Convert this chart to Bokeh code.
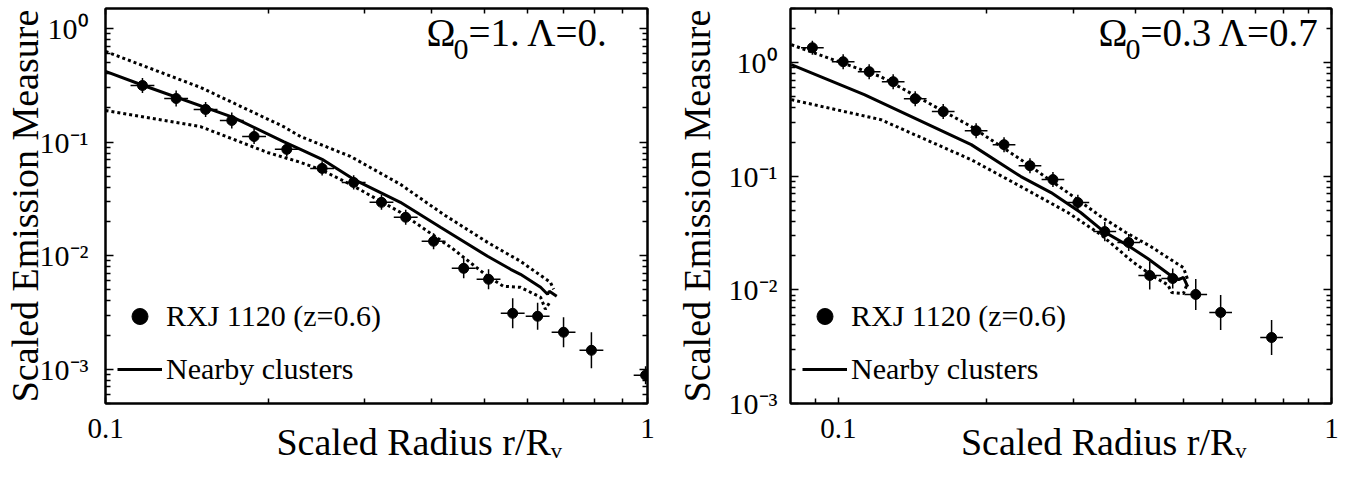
import numpy as np
from bokeh.plotting import figure
from bokeh.models import Range1d, FixedTicker, LogAxis, Label, Legend, LegendItem
from bokeh.layouts import row
from bokeh.embed import file_html
from bokeh.resources import INLINE

FONT = "Liberation Serif"

# ---------------- data: left panel (Omega0=1, Lambda=0) ----------------
L_pts_x = [0.117, 0.135, 0.153, 0.171, 0.188, 0.216, 0.251, 0.287, 0.323, 0.358,
           0.403, 0.458, 0.509, 0.564, 0.627, 0.700, 0.788, 0.992]
L_pts_y = [0.315, 0.242, 0.194, 0.155, 0.112, 0.0863, 0.0587, 0.0442, 0.0295, 0.0218,
           0.0134, 0.00774, 0.00620, 0.00311, 0.00293, 0.00212, 0.00147, 0.000887]
L_yerr_dex = [0.066, 0.07, 0.066, 0.07, 0.066, 0.066, 0.062, 0.062, 0.066, 0.066,
              0.07, 0.088, 0.088, 0.132, 0.119, 0.132, 0.158, 0.08]
L_xerr_dex = [0.022] * 18

L_solid_x = [0.1, 0.1175, 0.172, 0.213, 0.229, 0.251, 0.287, 0.350, 0.415, 0.507,
             0.559, 0.583, 0.635, 0.654, 0.659, 0.680]
L_solid_y = [0.419, 0.315, 0.165, 0.101, 0.0863, 0.0705, 0.047, 0.0295, 0.0178, 0.00988,
             0.00759, 0.00686, 0.00527, 0.00458, 0.00486, 0.00440]
L_up_x = [0.1, 0.1497, 0.213, 0.229, 0.283, 0.350, 0.4204, 0.507, 0.583, 0.662, 0.671]
L_up_y = [0.628, 0.303, 0.137, 0.112, 0.0749, 0.0425, 0.0231, 0.0131, 0.00893, 0.00583, 0.00506]
L_lo_x = [0.1, 0.1497, 0.199, 0.229, 0.249, 0.283, 0.350, 0.4385, 0.507, 0.542,
          0.583, 0.635, 0.648, 0.662]
L_lo_y = [0.190, 0.137, 0.0811, 0.0663, 0.0575, 0.0425, 0.0241, 0.0114, 0.00659, 0.00538,
          0.00527, 0.00431, 0.00338, 0.00397]

# ---------------- data: right panel (Omega0=0.3, Lambda=0.7) ----------------
R_pts_x = [0.0886, 0.1023, 0.1155, 0.1292, 0.1432, 0.1632, 0.1903, 0.2168, 0.2447, 0.2724,
           0.306, 0.347, 0.388, 0.428, 0.4765, 0.5306, 0.596, 0.756]
R_pts_y = [1.355, 1.02, 0.834, 0.681, 0.482, 0.371, 0.252, 0.190, 0.124, 0.0935,
           0.0587, 0.0326, 0.0261, 0.0134, 0.0126, 0.00912, 0.00633, 0.00381]
R_yerr_dex = [0.062, 0.066, 0.066, 0.066, 0.066, 0.066, 0.066, 0.066, 0.066, 0.066,
              0.07, 0.084, 0.075, 0.123, 0.088, 0.136, 0.154, 0.154]
R_xerr_dex = [0.023] * 18

R_solid_x = [0.0803, 0.1129, 0.186, 0.2346, 0.27, 0.310, 0.3456, 0.3865, 0.424, 0.472,
             0.490, 0.501, 0.511]
R_solid_y = [0.96, 0.523, 0.190, 0.0994, 0.0719, 0.048, 0.0326, 0.0246, 0.0189, 0.0134,
             0.0123, 0.0129, 0.0107]
R_up_x = [0.0803, 0.122, 0.186, 0.2346, 0.292, 0.3406, 0.383, 0.430, 0.472, 0.501, 0.511]
R_up_y = [1.44, 0.753, 0.274, 0.140, 0.0719, 0.0442, 0.032, 0.0241, 0.0185, 0.0157, 0.0123]
R_lo_x = [0.0803, 0.122, 0.186, 0.2346, 0.292, 0.3406, 0.397, 0.436, 0.4656, 0.4745,
          0.501, 0.509]
R_lo_y = [0.473, 0.315, 0.140, 0.0811, 0.048, 0.0307, 0.0174, 0.0131, 0.0111, 0.00948,
          0.00929, 0.0111]

# ---------------- ticks / texts ----------------
X_TICKS = [0.1, 1.0]
X_TICK_LABELS = ["0.1", "1"]
X_MINOR = [0.09, 0.2, 0.3, 0.4, 0.5, 0.6, 0.7, 0.8, 0.9]
Y_TICKS = [0.001, 0.01, 0.1, 1.0]
Y_TICK_LABELS = ["10\u207b\u00b3", "10\u207b\u00b2", "10\u207b\u00b9", "10\u2070"]
Y_MINOR = [m * 10.0 ** e for e in range(-4, 1) for m in range(2, 10)]

Y_LABEL = "Scaled Emission Measure"
X_LABEL = "Scaled Radius r/R\u1d65"
LEGEND_PTS = "RXJ 1120 (z=0.6)"
LEGEND_LINE = "Nearby clusters"
L_TITLE = ("\u03a9", "0", "=1. \u039b=0.")
R_TITLE = ("\u03a9", "0", "=0.3 \u039b=0.7")

NBSP = "\u00a0"


def style_axis(ax, minor_in=5, major_in=8):
    ax.axis_line_color = "black"
    ax.axis_line_width = 2
    ax.major_tick_line_color = "black"
    ax.minor_tick_line_color = "black"
    ax.major_tick_line_width = 1.5
    ax.minor_tick_line_width = 1.5
    ax.major_tick_in = major_in
    ax.major_tick_out = 0
    ax.minor_tick_in = minor_in
    ax.minor_tick_out = 0


def hide_labels(ax, ticks):
    ax.major_label_overrides = {t: "" for t in ticks}
    ax.major_label_text_font_size = "1px"
    ax.major_label_standoff = 0


def make_panel(xr, yr, pts_x, pts_y, xerr, yerr, sx, sy, ux, uy, lx, ly, title,
               frame_w, border_left, border_right, title_offsets, ytick_gap, ytick_fs,
               ylabel_standoff, xlabel_pad):
    p = figure(frame_width=frame_w, frame_height=395,
               x_axis_type="log", y_axis_type="log",
               x_range=Range1d(*xr), y_range=Range1d(*yr),
               output_backend="svg", toolbar_location=None,
               min_border_left=border_left, min_border_right=border_right,
               min_border_top=8, min_border_bottom=62,
               background_fill_color="white", border_fill_color="white")
    p.outline_line_color = "black"
    p.outline_line_width = 2
    p.grid.visible = False

    xb = p.below[0]
    yl = p.left[0]
    # bottom axis
    xb.ticker = FixedTicker(ticks=X_TICKS, minor_ticks=X_MINOR)
    xb.major_label_overrides = dict(zip(X_TICKS, X_TICK_LABELS))
    xb.major_label_text_font = FONT
    xb.major_label_text_font_size = "29px"
    xb.major_label_text_color = "black"
    xb.major_label_standoff = 15
    xb.axis_label = NBSP * xlabel_pad + X_LABEL
    xb.axis_label_text_font = FONT
    xb.axis_label_text_font_size = "38px"
    xb.axis_label_text_font_style = "normal"
    xb.axis_label_text_color = "black"
    xb.axis_label_standoff = -20
    style_axis(xb, minor_in=5, major_in=6)
    # left axis
    yl.ticker = FixedTicker(ticks=Y_TICKS, minor_ticks=Y_MINOR)
    yl.major_label_overrides = dict(zip(Y_TICKS, Y_TICK_LABELS))
    yl.major_label_text_font = FONT
    yl.major_label_text_font_size = f"{ytick_fs}px"
    yl.major_label_text_color = "black"
    yl.major_label_standoff = ytick_gap
    yl.axis_label = Y_LABEL
    yl.axis_label_text_font = FONT
    yl.axis_label_text_font_size = "38px"
    yl.axis_label_text_font_style = "normal"
    yl.axis_label_text_color = "black"
    yl.axis_label_standoff = ylabel_standoff
    style_axis(yl)
    # mirrored axes
    top = LogAxis(ticker=FixedTicker(ticks=X_TICKS, minor_ticks=X_MINOR))
    hide_labels(top, X_TICKS)
    style_axis(top, minor_in=5, major_in=6)
    right = LogAxis(ticker=FixedTicker(ticks=Y_TICKS, minor_ticks=Y_MINOR))
    hide_labels(right, Y_TICKS)
    style_axis(right)
    p.add_layout(top, "above")
    p.add_layout(right, "right")

    # title (Omega_0 with subscript)
    o1, o2, o3 = title_offsets
    p.add_layout(Label(x=xr[0], y=yr[1], x_offset=o1, y_offset=-24, text=title[0],
                       text_align="left", text_baseline="alphabetic",
                       text_font=FONT, text_font_size="39px", text_color="black"))
    p.add_layout(Label(x=xr[0], y=yr[1], x_offset=o2, y_offset=-41, text=title[1],
                       text_align="left", text_baseline="alphabetic",
                       text_font=FONT, text_font_size="30px", text_color="black"))
    p.add_layout(Label(x=xr[0], y=yr[1], x_offset=o3, y_offset=-24, text=title[2],
                       text_align="left", text_baseline="alphabetic",
                       text_font=FONT, text_font_size="39px", text_color="black"))

    # curves
    p.line(ux, uy, line_color="black", line_width=3, line_dash="3 3")
    p.line(lx, ly, line_color="black", line_width=3, line_dash="3 3")
    solid = p.line(sx, sy, line_color="black", line_width=3)

    # data points with error bars
    x = np.array(pts_x)
    y = np.array(pts_y)
    xe = np.array(xerr)
    ye = np.array(yerr)
    p.segment(x0=x * 10 ** (-xe), y0=y, x1=x * 10 ** xe, y1=y, line_color="black", line_width=1.5)
    p.segment(x0=x, y0=y * 10 ** (-ye), x1=x, y1=y * 10 ** ye, line_color="black", line_width=1.5)
    pts = p.scatter(x, y, size=10, marker="circle", fill_color="black", line_color="black")

    legend = Legend(items=[LegendItem(label=LEGEND_PTS, renderers=[pts]),
                           LegendItem(label=LEGEND_LINE, renderers=[solid])],
                    location=(12, 14), glyph_width=45, glyph_height=40, label_height=40,
                    spacing=13, padding=0, margin=0, label_standoff=4,
                    label_text_font=FONT, label_text_font_size="30px", label_text_color="black",
                    background_fill_alpha=0, border_line_alpha=0)
    p.add_layout(legend)
    return p


p1 = make_panel((0.1, 1.0), (5e-4, 1.5), L_pts_x, L_pts_y, L_xerr_dex, L_yerr_dex,
                L_solid_x, L_solid_y, L_up_x, L_up_y, L_lo_x, L_lo_y, L_TITLE,
                frame_w=542, border_left=97, border_right=13, title_offsets=(321, 348, 363),
                ytick_gap=17, ytick_fs=30, ylabel_standoff=-9, xlabel_pad=9)
p2 = make_panel((0.08, 1.0), (1e-3, 3.0), R_pts_x, R_pts_y, R_xerr_dex, R_yerr_dex,
                R_solid_x, R_solid_y, R_up_x, R_up_y, R_lo_x, R_lo_y, R_TITLE,
                frame_w=541, border_left=130, border_right=12, title_offsets=(308, 335, 350),
                ytick_gap=13, ytick_fs=30, ylabel_standoff=8, xlabel_pad=9)

layout = row(p1, p2)
open("out.html", "w").write(file_html(layout, INLINE))
